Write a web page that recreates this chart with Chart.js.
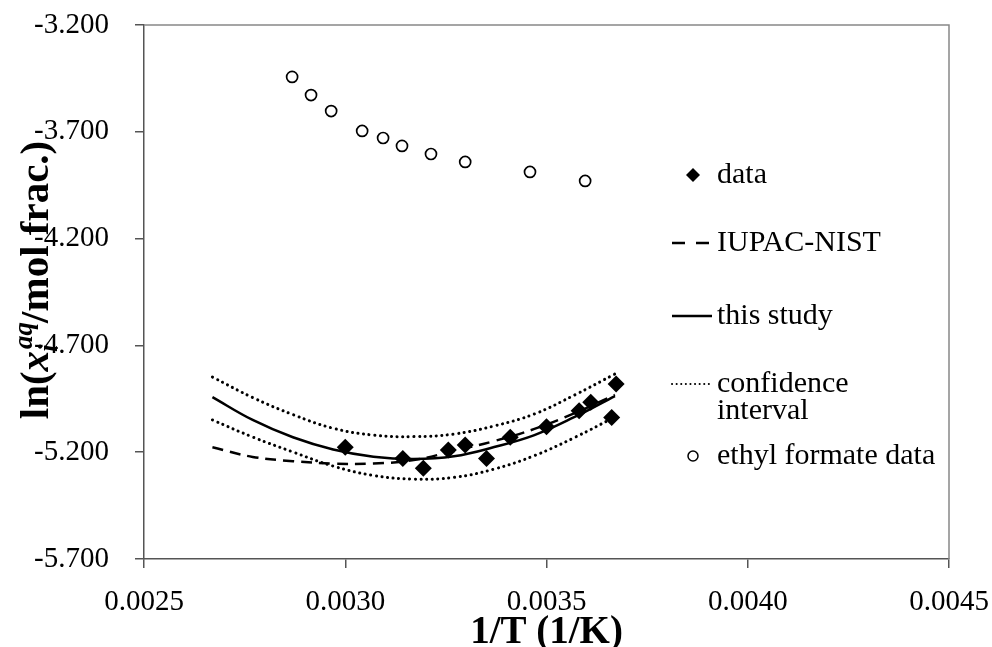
<!DOCTYPE html>
<html><head><meta charset="utf-8">
<script src="https://cdn.jsdelivr.net/npm/chart.js@4.4.1/dist/chart.umd.min.js"></script>
<style>html,body{margin:0;padding:0;background:#fff}</style>
</head><body>
<canvas id="c" width="992" height="647"></canvas>
<script>
// ---- data ----
const xTicks = [0.0025, 0.0030, 0.0035, 0.0040, 0.0045];
const yTicks = [-5.7, -5.2, -4.7, -4.2, -3.7, -3.2];

const dataX = [0.003000, 0.003143, 0.003194, 0.003256, 0.003298, 0.003351, 0.003410, 0.003500, 0.003581, 0.003610, 0.003673, 0.003662];
const dataY = [-5.177, -5.230, -5.275, -5.190, -5.166, -5.230, -5.130, -5.081, -5.006, -4.966, -4.881, -5.037];

const ethylX = [0.002868, 0.002915, 0.002965, 0.003042, 0.003094, 0.003141, 0.003213, 0.003298, 0.003459, 0.003596];
const ethylY = [-3.443, -3.528, -3.603, -3.696, -3.729, -3.766, -3.804, -3.841, -3.888, -3.930];

const curveX   = [0.00267, 0.00277, 0.00287, 0.00297, 0.00307, 0.00317, 0.00327, 0.00337, 0.00347, 0.00357, 0.00367];
const iupacY   = [-5.177, -5.222, -5.242, -5.253, -5.253, -5.237, -5.194, -5.148, -5.091, -5.017, -4.932];
const studyY   = [-4.942, -5.049, -5.130, -5.187, -5.221, -5.232, -5.219, -5.176, -5.120, -5.035, -4.937];
const ciUpperY = [-4.848, -4.944, -5.024, -5.088, -5.120, -5.127, -5.115, -5.077, -5.021, -4.932, -4.834];
const ciLowerY = [-5.049, -5.129, -5.199, -5.265, -5.309, -5.326, -5.318, -5.279, -5.216, -5.131, -5.035];

const legendLabels = ['data', 'IUPAC-NIST', 'this study', 'confidence', 'interval', 'ethyl formate data'];

// ---- build ----
const pts = (xs, ys) => xs.map((x, i) => ({x: x, y: ys[i]}));
const SERIF = '"Liberation Serif", "Times New Roman", serif';
const AXIS = '#555555';

const lineDs = (label, ys, dash, dotted) => ({
  label: label, data: pts(curveX, ys), showLine: true, fill: false,
  borderColor: '#000', borderWidth: dotted ? 3 : 2.5, borderDash: dash || [],
  borderCapStyle: dotted ? 'round' : 'butt',
  pointRadius: 0, pointHoverRadius: 0, tension: 0.4, order: 3
});

const yTitlePlugin = {
  id: 'yTitle',
  afterDraw(chart) {
    const ctx = chart.ctx;
    ctx.save();
    ctx.translate(48, 280);
    ctx.rotate(-Math.PI / 2);
    const big = 41, small = 27;
    const parts = [
      {t: 'ln(', f: `bold ${big}px ${SERIF}`},
      {t: 'x', f: `italic bold ${big}px ${SERIF}`},
    ];
    const tail = {t: '/mol frac.)', f: `bold ${big}px ${SERIF}`};
    let w = 0;
    const widths = [];
    parts.forEach(p => { ctx.font = p.f; const ww = ctx.measureText(p.t).width; widths.push(ww); w += ww; });
    ctx.font = `italic bold ${small}px ${SERIF}`;
    const wSup = ctx.measureText('aq').width, wSub = ctx.measureText('i').width;
    const wScript = Math.max(wSup, wSub) + 1;
    ctx.font = tail.f; const wTail = ctx.measureText(tail.t).width;
    const total = w + wScript + wTail;
    let x = -total / 2;
    ctx.fillStyle = '#000';
    ctx.textBaseline = 'alphabetic';
    parts.forEach((p, i) => { ctx.font = p.f; ctx.fillText(p.t, x, 0); x += widths[i]; });
    ctx.font = `italic bold ${small}px ${SERIF}`;
    ctx.fillText('aq', x + 2, -16);
    ctx.fillText('i', x - 1, 9);
    x += wScript;
    ctx.font = tail.f; ctx.fillText(tail.t, x, 0);
    ctx.restore();
  }
};

const legendPlugin = {
  id: 'customLegend',
  afterDraw(chart) {
    const ctx = chart.ctx;
    ctx.save();
    ctx.fillStyle = '#000'; ctx.strokeStyle = '#000';
    ctx.font = `30px ${SERIF}`;
    ctx.textBaseline = 'middle';
    const tx = 717, lx0 = 672, lx1 = 712;
    // data
    const dy = 175, r = 7;
    ctx.beginPath(); ctx.moveTo(693, dy - r); ctx.lineTo(693 + r, dy); ctx.lineTo(693, dy + r); ctx.lineTo(693 - r, dy); ctx.closePath(); ctx.fill();
    ctx.fillText(legendLabels[0], tx, dy);
    // IUPAC
    ctx.lineWidth = 2.5;
    ctx.setLineDash([13, 11]);
    ctx.beginPath(); ctx.moveTo(lx0, 243); ctx.lineTo(lx1, 243); ctx.stroke();
    ctx.fillText(legendLabels[1], tx, 243);
    // this study
    ctx.setLineDash([]);
    ctx.beginPath(); ctx.moveTo(lx0, 316); ctx.lineTo(lx1, 316); ctx.stroke();
    ctx.fillText(legendLabels[2], tx, 316);
    // CI
    ctx.lineWidth = 2;
    ctx.lineCap = 'round';
    ctx.setLineDash([0.1, 4.5]);
    ctx.beginPath(); ctx.moveTo(lx0, 384); ctx.lineTo(lx1, 384); ctx.stroke();
    ctx.setLineDash([]);
    ctx.lineCap = 'butt';
    ctx.fillText(legendLabels[3], tx, 384);
    ctx.fillText(legendLabels[4], tx, 411);
    // ethyl formate
    ctx.lineWidth = 1.5;
    ctx.beginPath(); ctx.arc(693, 456, 5, 0, Math.PI * 2); ctx.fillStyle = '#fff'; ctx.fill(); ctx.stroke();
    ctx.fillStyle = '#000';
    ctx.fillText(legendLabels[5], tx, 456);
    ctx.restore();
  }
};

const boxPlugin = {
  id: 'box',
  afterDatasetsDraw(chart) {
    const a = chart.chartArea, ctx = chart.ctx;
    ctx.save();
    ctx.strokeStyle = '#888'; ctx.lineWidth = 1.5;
    ctx.beginPath(); ctx.moveTo(a.left, a.top); ctx.lineTo(a.right, a.top); ctx.lineTo(a.right, a.bottom); ctx.stroke();
    ctx.restore();
  }
};

new Chart(document.getElementById('c'), {
  type: 'scatter',
  data: {
    datasets: [
      {label: 'data', data: pts(dataX, dataY), pointStyle: 'rectRot', pointRadius: 8.5, pointHoverRadius: 8.5,
       backgroundColor: '#000', borderColor: '#000', borderWidth: 0, order: 1},
      lineDs('IUPAC-NIST', iupacY, [11, 7], false),
      lineDs('this study', studyY, null, false),
      lineDs('confidence interval', ciUpperY, [0.1, 5.5], true),
      lineDs('confidence interval (lower)', ciLowerY, [0.1, 5.5], true),
      {label: 'ethyl formate data', data: pts(ethylX, ethylY), pointStyle: 'circle', pointRadius: 5.5, pointHoverRadius: 5.5,
       backgroundColor: '#fff', borderColor: '#000', borderWidth: 1.7, order: 2}
    ]
  },
  options: {
    responsive: false, animation: false, devicePixelRatio: 1,
    layout: {padding: {left: 0, right: 43, top: 25, bottom: 0}, autoPadding: false},
    plugins: {legend: {display: false}, tooltip: {enabled: false}, title: {display: false}},
    scales: {
      x: {
        type: 'linear', min: 0.0025, max: 0.0045,
        afterBuildTicks: s => { s.ticks = xTicks.map(v => ({value: v})); },
        afterFit: s => { s.height = 88; s.paddingLeft = 0; s.paddingRight = 0; },
        ticks: {callback: v => Number(v).toFixed(4), font: {family: SERIF, size: 29}, color: '#000', padding: 17, maxRotation: 0},
        grid: {display: true, drawOnChartArea: false, drawTicks: true, tickLength: 9, color: AXIS, lineWidth: 1.5},
        border: {display: true, color: AXIS, width: 1.5},
        title: {display: true, text: '1/T (1/K)', font: {family: SERIF, size: 39, weight: 'bold', lineHeight: 0.72}, color: '#000', padding: {top: 0, bottom: 0}}
      },
      y: {
        type: 'linear', min: -5.7, max: -3.2,
        afterBuildTicks: s => { s.ticks = yTicks.map(v => ({value: v})); },
        afterFit: s => { s.width = 144; s.paddingTop = 0; s.paddingBottom = 0; },
        ticks: {callback: v => Number(v).toFixed(3), font: {family: SERIF, size: 29}, color: '#000', padding: 26},
        grid: {display: true, drawOnChartArea: false, drawTicks: true, tickLength: 9, color: AXIS, lineWidth: 1.5},
        border: {display: true, color: AXIS, width: 1.5}
      }
    }
  },
  plugins: [boxPlugin, yTitlePlugin, legendPlugin]
});
</script>
</body></html>
